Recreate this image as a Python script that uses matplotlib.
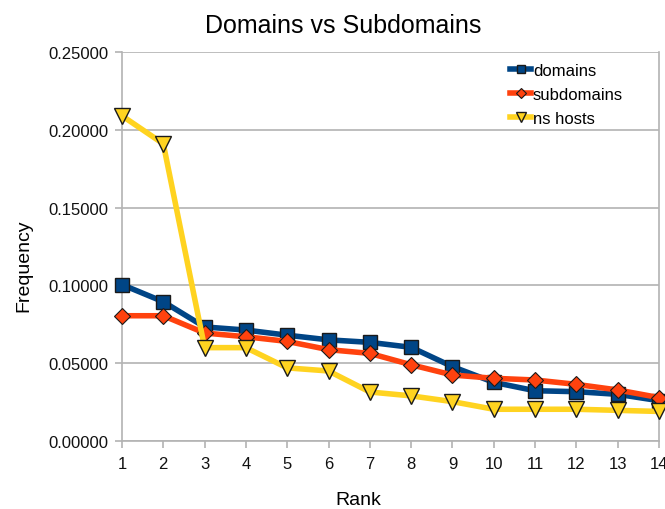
import matplotlib.pyplot as plt

plt.rcParams['font.family'] = ['Liberation Sans', 'DejaVu Sans']

rank = list(range(1, 15))
domains = [0.1005, 0.0895, 0.0733, 0.0713, 0.0680, 0.0650, 0.0634, 0.0602,
           0.0478, 0.0377, 0.0323, 0.0317, 0.0300, 0.0259]
subdomains = [0.0805, 0.0805, 0.0694, 0.0670, 0.0640, 0.0587, 0.0563, 0.0490,
              0.0424, 0.0403, 0.0392, 0.0364, 0.0328, 0.0279]
ns_hosts = [0.2090, 0.1910, 0.0600, 0.0600, 0.0470, 0.0450, 0.0315, 0.0290,
            0.0253, 0.0204, 0.0204, 0.0204, 0.0197, 0.0190]
yticks = [0.0, 0.05, 0.10, 0.15, 0.20, 0.25]

W, H = 665, 510
fig = plt.figure(figsize=(W / 100, H / 100), dpi=100)
ax = fig.add_axes([122 / W, 1 - 442 / H, (659 - 122) / W, (442 - 53) / H])

grid_c = '#b3b3b3'
ax.plot(rank, domains, color='#004586', lw=4, marker='s', ms=10,
        mec='#1a1a1a', mew=1, label='domains', clip_on=False, zorder=3)
ax.plot(rank, subdomains, color='#ff420e', lw=4, marker='D', ms=8,
        mec='#1a1a1a', mew=0.8, label='subdomains', clip_on=False, zorder=4)
ax.plot(rank, ns_hosts, color='#ffd320', lw=4, marker='v', ms=11,
        mec='#1a1a1a', mew=1, label='ns hosts', clip_on=False, zorder=5)

ax.set_xlim(1, 14)
ax.set_ylim(0, 0.25)
ax.set_xticks(rank)
ax.set_yticks(yticks)
ax.set_yticklabels(['%.5f' % v for v in yticks])
ax.grid(axis='y', color=grid_c, lw=1.2)
ax.set_axisbelow(True)
for s in ['left', 'right', 'bottom']:
    ax.spines[s].set_color(grid_c)
    ax.spines[s].set_linewidth(1.2)
ax.spines['top'].set_visible(False)
ax.tick_params(colors=grid_c, labelcolor='#111111', labelsize=12,
               length=5, width=1.2)
ax.tick_params(axis='x', pad=6)
ax.tick_params(axis='y', pad=5)

# title and axis titles placed like the LibreOffice export
fig.text(343 / W, 1 - 33 / H, 'Domains vs Subdomains', fontsize=18,
         ha='center', va='baseline')
fig.text(358 / W, 1 - 505 / H, 'Rank', fontsize=14, ha='center', va='baseline')
fig.text(24 / W, 1 - 266 / H, 'Frequency', fontsize=14, rotation=90,
         ha='center', va='center')

ax.legend(loc='upper left', bbox_to_anchor=(503 / W, 1 - 57 / H),
          bbox_transform=fig.transFigure, borderaxespad=0, frameon=False,
          fontsize=12, handlelength=1.3, handletextpad=0.1,
          labelspacing=0.55, markerscale=0.6)

fig.savefig('out.png', dpi=100)
